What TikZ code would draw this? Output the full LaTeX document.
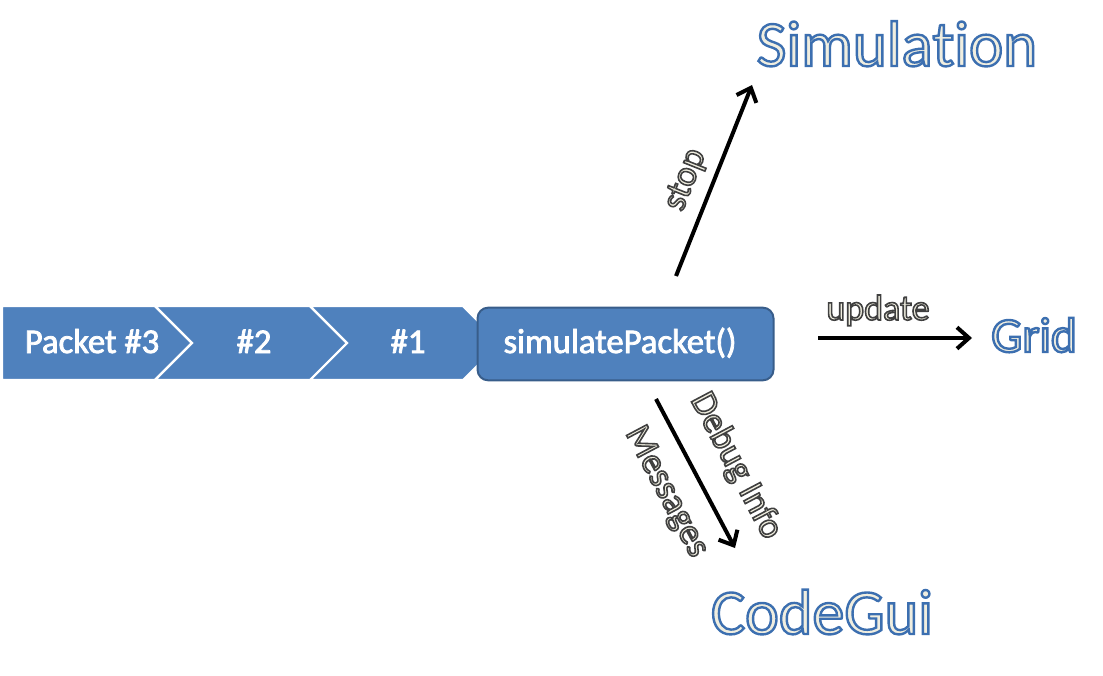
\documentclass[tikz,border=0pt]{standalone}
\usepackage{fontspec}
\setmainfont{Carlito}[Ligatures={NoCommon,NoContextual}]
\usetikzlibrary{arrows.meta}
\definecolor{accent}{HTML}{4F81BD}
\definecolor{accentdark}{HTML}{385D8A}
\definecolor{cream}{HTML}{F0EEE0}
\tikzset{
  chev/.style={fill=accent, draw=white, line width=1.6pt, line join=miter},
  box/.style={fill=accent, draw=accentdark, line width=1.5pt, rounded corners=8pt},
  wtext/.style={text=white, font=\fontsize{26}{30}\selectfont, inner sep=0pt, anchor=base},
  title/.style={text=cream, inner sep=0pt, anchor=base},
  lab/.style={text=cream, font=\fontsize{27}{30}\selectfont, inner sep=0pt},
  arr/.style={line width=3pt, -{Straight Barb[length=9pt,width=16pt,line width=3pt]}}
}
\newcommand{\outl}[3]{\special{pdf:literal direct 2 Tr #1 w #2 RG}#3\special{pdf:literal direct 0 Tr}}
\newcommand{\ttl}[1]{\outl{1.8}{0.235 0.435 0.69}{#1}}
\newcommand{\lbl}[1]{\outl{1.2}{0.25 0.25 0.25}{#1}}
\newcommand{\wht}[1]{\outl{0.6}{1 1 1}{#1}}
\begin{document}
\begin{tikzpicture}[x=0.75pt,y=-0.75pt]
\useasboundingbox (0,0) rectangle (1103,675);
% chevrons
\path[chev] (2,306) -- (155,306) -- (192,343) -- (155,380) -- (2,380) -- cycle;
\path[chev] (155,306) -- (310,306) -- (347,343) -- (310,380) -- (155,380) -- (192,343) -- cycle;
\path[chev] (310,306) -- (463,306) -- (500,343) -- (463,380) -- (310,380) -- (347,343) -- cycle;
\node[wtext] (p3) at (92,353) {\wht{Packet \#3}};
\node[wtext] (p2) at (254,353) {\wht{\#2}};
\node[wtext] (p1) at (408,353) {\wht{\#1}};
% main box
\node[box, minimum width=222pt, minimum height=54.5pt, inner sep=0pt] (sim) at (625.5,344) {};
\node[wtext] (simtxt) at (620,353) {\wht{simulatePacket()}};
% arrow coordinates
\coordinate (s0) at (676,276);
\coordinate (s1) at (752,85);
\coordinate (u0) at (818,338);
\coordinate (u1) at (972,338);
\coordinate (d0) at (656,399);
\coordinate (d1) at (735,548);
\draw[arr] (s0) -- (s1);
\draw[arr] (u0) -- (u1);
\draw[arr] (d0) -- (d1);
% targets
\node[title, font=\fontsize{48.5}{55}\selectfont] (simulation) at (897,66) {\ttl{Simula\kern0pt tion}};
\node[title, font=\fontsize{37}{42}\selectfont] (grid) at (1034,352) {\ttl{Grid}};
\node[title, font=\fontsize{48}{55}\selectfont] (codegui) at (822,634) {\ttl{CodeGui}};
% labels
\node[lab, rotate=68.3] (stop) at (686,180) {\lbl{stop}};
\node[lab, anchor=base] (update) at (878,320) {\lbl{update}};
\node[lab, rotate=-62.1] (debug) at (736,466) {\lbl{Debug Info}};
\node[lab, rotate=-62.1] (msgs) at (666,492) {\lbl{Messages}};
\end{tikzpicture}
\end{document}
